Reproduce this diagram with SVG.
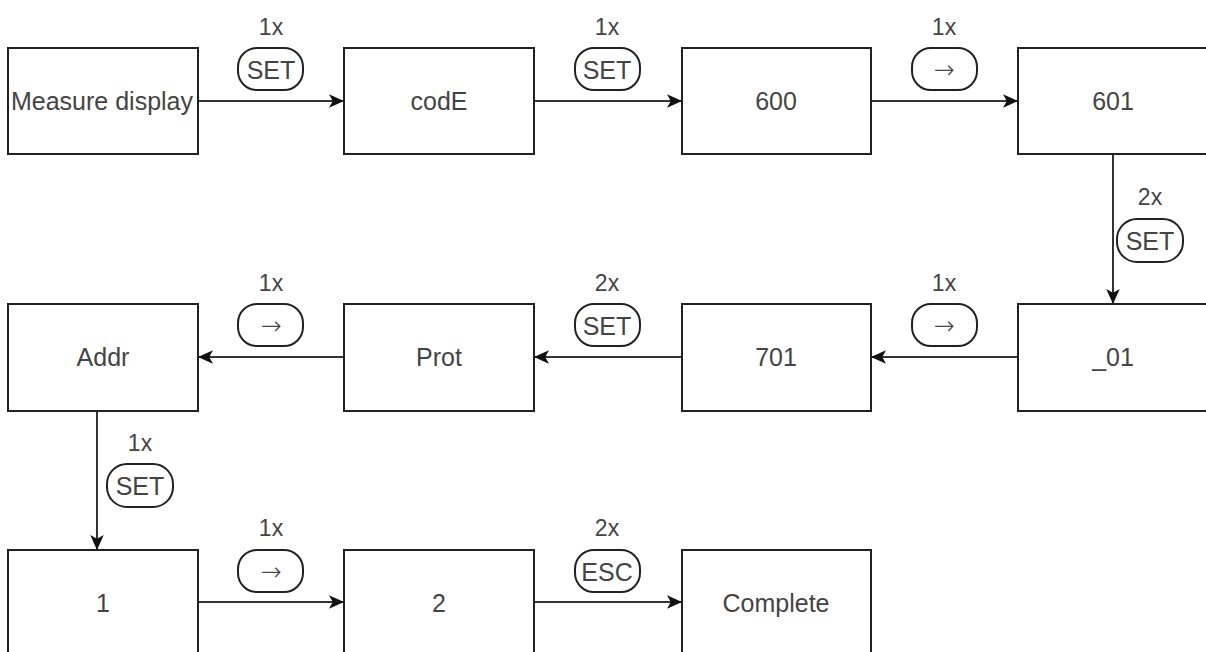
<svg xmlns="http://www.w3.org/2000/svg" width="1206" height="652" viewBox="0 0 1206 652">
<defs>
<marker id="ah" viewBox="0 0 10 10" refX="10" refY="5" markerWidth="15" markerHeight="15" markerUnits="userSpaceOnUse" orient="auto">
<path d="M0,0.5 L10,5 L0,9.5 L2.5,5 Z" fill="#111"/>
</marker>
</defs>
<style>
.box{fill:#fff;stroke:#222;stroke-width:2}
.t{font-family:"Liberation Sans",Arial,sans-serif;font-size:25px;fill:#444;text-anchor:middle;dominant-baseline:central}
.lb{font-family:"Liberation Sans",Arial,sans-serif;font-size:23px;fill:#444;text-anchor:middle;dominant-baseline:central}
.ar{font-family:"DejaVu Sans",sans-serif;font-weight:200;font-size:25px;fill:#444;text-anchor:middle;dominant-baseline:central}
.bd{fill:#fff;stroke:#222;stroke-width:2}
.c{stroke:#333;stroke-width:2;fill:none;marker-end:url(#ah)}
</style>
<rect width="1206" height="652" fill="#fff"/>
<g id="connectors">
<line class="c" x1="198" y1="101" x2="344" y2="101"/>
<line class="c" x1="534" y1="101" x2="682" y2="101"/>
<line class="c" x1="871" y1="101" x2="1018" y2="101"/>
<line class="c" x1="1113" y1="154" x2="1113" y2="304"/>
<line class="c" x1="1018" y1="357" x2="871" y2="357"/>
<line class="c" x1="682" y1="357" x2="534" y2="357"/>
<line class="c" x1="344" y1="357" x2="198" y2="357"/>
<line class="c" x1="97" y1="411" x2="97" y2="550"/>
<line class="c" x1="198" y1="602" x2="344" y2="602"/>
<line class="c" x1="534" y1="602" x2="682" y2="602"/>
</g>
<g id="labels">
<text class="lb" x="271" y="27">1x</text><rect class="bd" x="238" y="48" width="65" height="42" rx="19"/><text class="t" x="271" y="69.5">SET</text>
<text class="lb" x="607" y="27">1x</text><rect class="bd" x="575" y="48" width="65" height="42" rx="19"/><text class="t" x="607" y="69.5">SET</text>
<text class="lb" x="944" y="27">1x</text><rect class="bd" x="912" y="48" width="65" height="42" rx="19"/><text class="ar" x="944" y="69">→</text>
<text class="lb" x="1150" y="197">2x</text><rect class="bd" x="1117" y="219" width="66" height="43" rx="20"/><text class="t" x="1150" y="240.5">SET</text>
<text class="lb" x="271" y="283">1x</text><rect class="bd" x="238" y="304" width="65" height="42" rx="19"/><text class="ar" x="271" y="325">→</text>
<text class="lb" x="607" y="283">2x</text><rect class="bd" x="575" y="304" width="65" height="42" rx="19"/><text class="t" x="607" y="325.5">SET</text>
<text class="lb" x="944" y="283">1x</text><rect class="bd" x="912" y="304" width="65" height="42" rx="19"/><text class="ar" x="944" y="325">→</text>
<text class="lb" x="140" y="443">1x</text><rect class="bd" x="107" y="464" width="66" height="43" rx="20"/><text class="t" x="140" y="485.5">SET</text>
<text class="lb" x="271" y="528">1x</text><rect class="bd" x="238" y="550" width="65" height="42" rx="19"/><text class="ar" x="271" y="571">→</text>
<text class="lb" x="607" y="528">2x</text><rect class="bd" x="575" y="550" width="65" height="42" rx="19"/><text class="t" x="607" y="571.5">ESC</text>
</g>
<g id="n-measure"><rect class="box" x="8" y="48" width="190" height="106"/><text class="t" x="102" y="101">Measure display</text></g>
<g id="n-code"><rect class="box" x="344" y="48" width="190" height="106"/><text class="t" x="439" y="101">codE</text></g>
<g id="n-600"><rect class="box" x="682" y="48" width="189" height="106"/><text class="t" x="776" y="101">600</text></g>
<g id="n-601"><rect class="box" x="1018" y="48" width="195" height="106"/><text class="t" x="1113" y="101">601</text></g>
<g id="n-01"><rect class="box" x="1018" y="304" width="195" height="107"/><text class="t" x="1113" y="357">_01</text></g>
<g id="n-701"><rect class="box" x="682" y="304" width="189" height="107"/><text class="t" x="776" y="357">701</text></g>
<g id="n-prot"><rect class="box" x="344" y="304" width="190" height="107"/><text class="t" x="439" y="357">Prot</text></g>
<g id="n-addr"><rect class="box" x="8" y="304" width="190" height="107"/><text class="t" x="103" y="357">Addr</text></g>
<g id="n-1"><rect class="box" x="8" y="550" width="190" height="110"/><text class="t" x="103" y="603">1</text></g>
<g id="n-2"><rect class="box" x="344" y="550" width="190" height="110"/><text class="t" x="439" y="603">2</text></g>
<g id="n-complete"><rect class="box" x="682" y="550" width="189" height="110"/><text class="t" x="776" y="603">Complete</text></g>
</svg>
